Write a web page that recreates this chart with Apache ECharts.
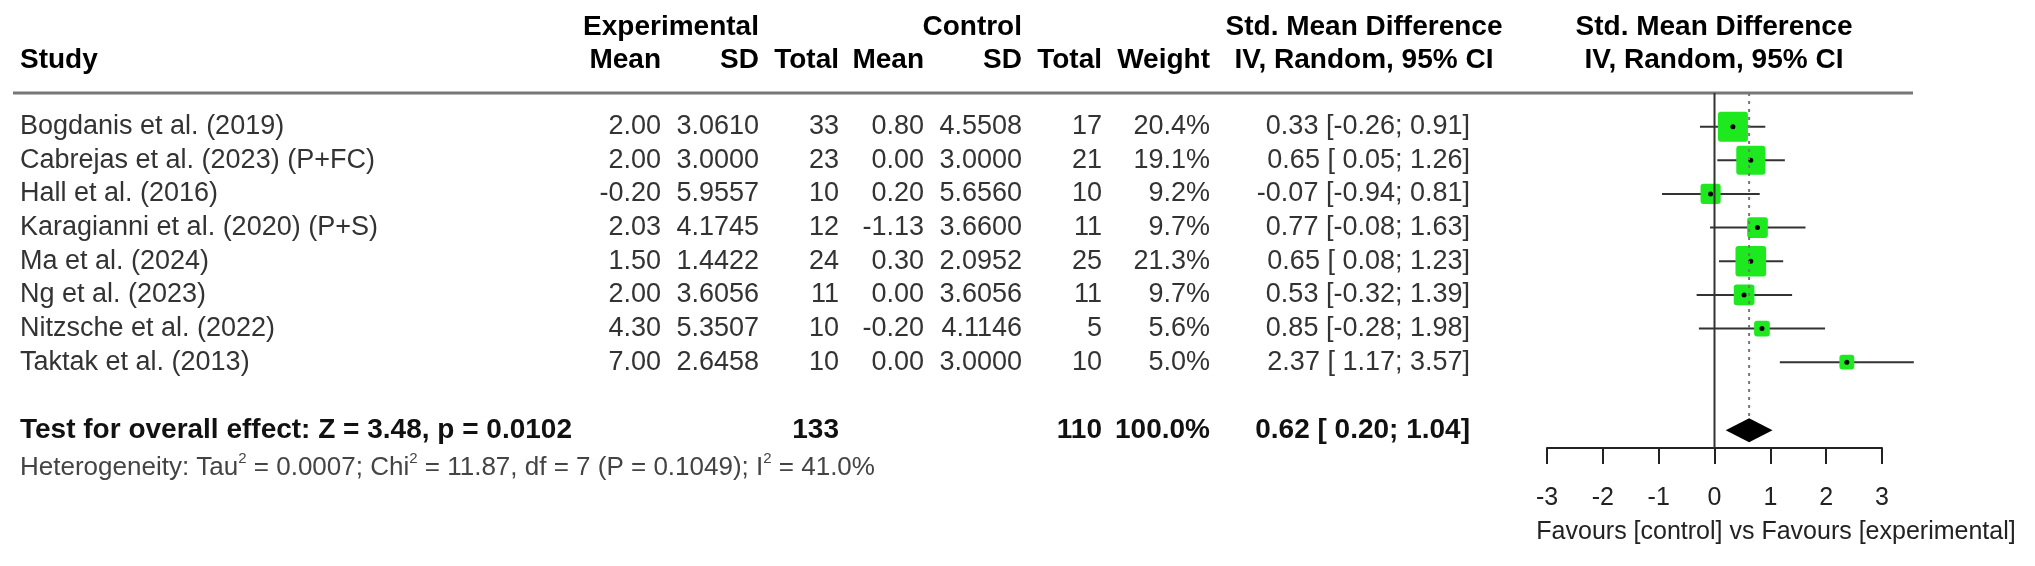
<!DOCTYPE html>
<html><head><meta charset="utf-8">
<script src="https://cdn.jsdelivr.net/npm/echarts@6/dist/echarts.min.js"></script>
<style>html,body{margin:0;padding:0;background:#fff}#c{width:2035px;height:566px}</style>
</head><body><div id="c"></div>
<script>
const studies = ["Bogdanis et al. (2019)","Cabrejas et al. (2023) (P+FC)","Hall et al. (2016)","Karagianni et al. (2020) (P+S)","Ma et al. (2024)","Ng et al. (2023)","Nitzsche et al. (2022)","Taktak et al. (2013)"];
const expMean = ["2.00","2.00","-0.20","2.03","1.50","2.00","4.30","7.00"];
const expSD = ["3.0610","3.0000","5.9557","4.1745","1.4422","3.6056","5.3507","2.6458"];
const expTotal = [33,23,10,12,24,11,10,10];
const ctlMean = ["0.80","0.00","0.20","-1.13","0.30","0.00","-0.20","0.00"];
const ctlSD = ["4.5508","3.0000","5.6560","3.6600","2.0952","3.6056","4.1146","3.0000"];
const ctlTotal = [17,21,10,11,25,11,5,10];
const weights = [20.4,19.1,9.2,9.7,21.3,9.7,5.6,5.0];
const smd = [0.33,0.65,-0.07,0.77,0.65,0.53,0.85,2.37];
const ciLow = [-0.26,0.05,-0.94,-0.08,0.08,-0.32,-0.28,1.17];
const ciHigh = [0.91,1.26,0.81,1.63,1.23,1.39,1.98,3.57];
const overall = {est:0.62, lo:0.20, hi:1.04, expN:133, ctlN:110, weight:"100.0%"};
const xTicks = [-3,-2,-1,0,1,2,3];
const overallRow = 9.02;

const FF = '"Liberation Sans", Arial, sans-serif';
const fmt = v => (v < 0 ? v.toFixed(2) : ' ' + v.toFixed(2));
const ciText = (e,l,h) => e.toFixed(2) + ' [' + fmt(l).replace(/^ /, l<0?'':' ') + '; ' + h.toFixed(2) + ']';

const chart = echarts.init(document.getElementById('c'));
const cols = [
  {x:20, align:'left', get:i=>studies[i]},
  {x:661, align:'right', get:i=>expMean[i]},
  {x:759, align:'right', get:i=>expSD[i]},
  {x:839, align:'right', get:i=>String(expTotal[i])},
  {x:924, align:'right', get:i=>ctlMean[i]},
  {x:1022, align:'right', get:i=>ctlSD[i]},
  {x:1102, align:'right', get:i=>String(ctlTotal[i])},
  {x:1210, align:'right', get:i=>weights[i].toFixed(1)+'%'},
  {x:1470, align:'right', get:i=>ciText(smd[i],ciLow[i],ciHigh[i])}
];
const tableData = studies.map((s,i)=>[0,i]);
const yAx = {type:'value', min:-1, max:9.55, inverse:true, show:false};
const txt = (t,x,y,o={}) => ({type:'text', style:Object.assign({text:t,x:x,y:y,fill:'#000',font:'bold 28px '+FF,align:'center',verticalAlign:'middle'},o)});

chart.setOption({
  animation:false,
  grid:[
    {left:0, width:2035, top:93, height:355},
    {left:1547, width:335, top:93, height:355}
  ],
  xAxis:[
    {gridIndex:0, type:'value', min:0, max:2035, show:false},
    {gridIndex:1, type:'value', min:-3, max:3, interval:1, position:'bottom', splitLine:{show:false},
     axisLine:{onZero:false, lineStyle:{color:'#222', width:2}},
     axisTick:{length:16, lineStyle:{color:'#222', width:2}},
     axisLabel:{margin:38, fontSize:25, color:'#222', fontFamily:FF}}
  ],
  yAxis:[Object.assign({gridIndex:0},yAx), Object.assign({gridIndex:1},yAx)],
  graphic:[
    txt('Experimental',671,27),
    txt('Control',1022,27,{align:'right'}),
    txt('Std. Mean Difference',1364,27),
    txt('Std. Mean Difference',1714,27),
    txt('Study',20,60,{align:'left'}),
    txt('Mean',661,60,{align:'right'}),
    txt('SD',759,60,{align:'right'}),
    txt('Total',839,60,{align:'right'}),
    txt('Mean',924,60,{align:'right'}),
    txt('SD',1022,60,{align:'right'}),
    txt('Total',1102,60,{align:'right'}),
    txt('Weight',1210,60,{align:'right'}),
    txt('IV, Random, 95% CI',1364,60),
    txt('IV, Random, 95% CI',1714,60),
    {type:'line', shape:{x1:13,y1:93,x2:1913,y2:93}, style:{stroke:'#777', lineWidth:3}},
    {type:'text', style:{x:20, y:466, verticalAlign:'middle', fill:'#444',
      text:'{a|Heterogeneity: Tau}{s|2}{a| = 0.0007; Chi}{s|2}{a| = 11.87, df = 7 (P = 0.1049); I}{s|2}{a| = 41.0%}',
      rich:{a:{fontSize:26, fontFamily:FF, fill:'#444', verticalAlign:'bottom', lineHeight:30}, s:{fontSize:15, fontFamily:FF, fill:'#444', verticalAlign:'top', lineHeight:30}}}},
    {type:'text', style:{x:1776, y:532, text:'Favours [control] vs Favours [experimental]', align:'center', verticalAlign:'middle', font:'25px '+FF, fill:'#222'}}
  ],
  series:[
    {type:'custom', xAxisIndex:0, yAxisIndex:0, data:tableData, silent:true,
     renderItem:(p,api)=>{
       const i = p.dataIndex;
       const y = api.coord([0,i])[1];
       return {type:'group', children: cols.map(c=>({type:'text', style:{text:c.get(i), x:api.coord([c.x,i])[0], y:y, align:c.align, verticalAlign:'middle', font:'27px '+FF, fill:'#333'}}))};
     }},
    {type:'custom', xAxisIndex:0, yAxisIndex:0, data:[[0,overallRow]], silent:true,
     renderItem:(p,api)=>{
       const y = api.coord([0,overallRow])[1];
       const items = [
         [20,'left','Test for overall effect: Z = 3.48, p = 0.0102'],
         [839,'right',String(overall.expN)],
         [1102,'right',String(overall.ctlN)],
         [1210,'right',overall.weight],
         [1470,'right',ciText(overall.est,overall.lo,overall.hi)]
       ];
       return {type:'group', children: items.map(t=>({type:'text', style:{text:t[2], x:api.coord([t[0],0])[0], y:y, align:t[1], verticalAlign:'middle', font:'bold 28px '+FF, fill:'#111'}}))};
     }},
    {type:'line', xAxisIndex:1, yAxisIndex:1, data:[[0,-1],[0,9.55]], symbol:'none', silent:true,
     lineStyle:{color:'#333', width:2}},
    {type:'line', xAxisIndex:1, yAxisIndex:1, data:[[overall.est,-1],[overall.est,overallRow-0.3]], symbol:'none', silent:true,
     lineStyle:{color:'#777', width:2, type:[3,5]}},
    {type:'custom', xAxisIndex:1, yAxisIndex:1, silent:true,
     data: smd.map((e,i)=>[e,ciLow[i],ciHigh[i],weights[i],i]),
     encode:{x:[0,1,2], y:4},
     renderItem:(p,api)=>{
       const r = api.value(4);
       const c = api.coord([api.value(0), r]);
       const l = api.coord([api.value(1), r]);
       const h = api.coord([api.value(2), r]);
       const s = 30*Math.sqrt(api.value(3)/20.4);
       return {type:'group', children:[
         {type:'line', shape:{x1:l[0],y1:c[1],x2:h[0],y2:c[1]}, style:{stroke:'#333', lineWidth:2}},
         {type:'rect', shape:{x:c[0]-s/2, y:c[1]-s/2, width:s, height:s, r:3}, style:{fill:'#1ee81e'}},
         {type:'circle', shape:{cx:c[0], cy:c[1], r:2.5}, style:{fill:'#000'}}
       ]};
     }},
    {type:'custom', xAxisIndex:1, yAxisIndex:1, silent:true,
     data:[[overall.est, overall.lo, overall.hi, overallRow]], encode:{x:[0,1,2], y:3},
     renderItem:(p,api)=>{
       const r = api.value(3);
       const c = api.coord([api.value(0), r]);
       const l = api.coord([api.value(1), r]);
       const h = api.coord([api.value(2), r]);
       return {type:'polygon', shape:{points:[[l[0],c[1]],[c[0],c[1]-12],[h[0],c[1]],[c[0],c[1]+12]]}, style:{fill:'#000'}};
     }}
  ]
});
</script></body></html>
